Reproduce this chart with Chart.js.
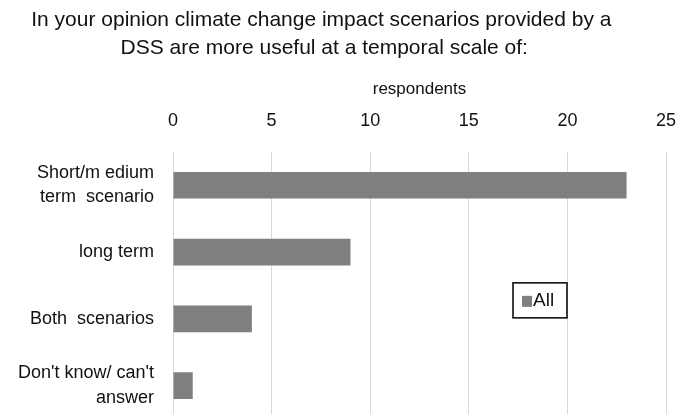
<!DOCTYPE html>
<html>
<head>
<meta charset="utf-8">
<title>Temporal scale of climate change impact scenarios</title>
<script src="https://cdn.jsdelivr.net/npm/chart.js"></script>
<style>
  html, body { margin: 0; padding: 0; background: #fff; overflow: hidden; }
  canvas { display: block; }
</style>
</head>
<body>
<!-- the plot runs a few pixels past the bottom edge of the window -->
<canvas id="scaleChart" width="677" height="419"></canvas>
<script>
// survey answers
const categories = [
  ['Short/m edium', 'term  scenario'],
  'long term',
  'Both  scenarios',
  ["Don't know/ can't", 'answer']
];
const respondents = [23, 9, 4, 1];
const seriesName = 'All';
const xTicks = [0, 5, 10, 15, 20, 25];

const FONT = "'Liberation Sans', Arial, sans-serif";
const barColor = '#7f7f7f';
// trailing no-break spaces nudge the centred title a little left
const NUDGE = '\u00a0\u00a0\u00a0\u00a0';

// boxed legend sitting inside the plot, right of centre
const boxLegend = {
  id: 'boxLegend',
  afterDraw(chart) {
    const { ctx, chartArea } = chart;
    const ds = chart.data.datasets[0];
    const x = chartArea.left + 340, y = chartArea.top + 131;
    const w = 54, h = 35;
    ctx.save();
    ctx.fillStyle = '#fff';
    ctx.fillRect(x, y, w, h);
    ctx.strokeStyle = '#000';
    ctx.lineWidth = 1.5;
    ctx.strokeRect(x, y, w, h);
    ctx.fillStyle = ds.backgroundColor;
    ctx.fillRect(x + 9, y + 13, 10, 11);
    ctx.fillStyle = '#111';
    ctx.font = '19px ' + FONT;
    ctx.textBaseline = 'middle';
    ctx.fillText(ds.label, x + 20, y + 18);
    ctx.restore();
  }
};

new Chart(document.getElementById('scaleChart'), {
  type: 'bar',
  data: {
    labels: categories,
    datasets: [{
      label: seriesName,
      data: respondents,
      backgroundColor: barColor,
      borderWidth: 0,
      categoryPercentage: 1,
      barPercentage: 0.4
    }]
  },
  options: {
    indexAxis: 'y',
    responsive: false,
    animation: false,
    layout: { padding: { left: 0, right: 11, top: 0, bottom: 0 } },
    plugins: {
      legend: { display: false },
      tooltip: { enabled: false },
      title: {
        display: true,
        text: ['In your opinion climate change impact scenarios provided by a' + NUDGE,
               'DSS are more useful at a temporal scale of:' + NUDGE.slice(1)],
        color: '#111',
        font: { family: FONT, size: 21, weight: 'normal', lineHeight: 1.33 },
        padding: { top: 6, bottom: 12 }
      }
    },
    scales: {
      x: {
        position: 'top',
        min: 0,
        max: 25,
        afterBuildTicks(axis) { axis.ticks = xTicks.map(v => ({ value: v })); },
        afterFit(axis) {
          axis.height = 78;
          axis.paddingLeft = 0;
          axis.paddingRight = 0;
        },
        ticks: { color: '#111', font: { family: FONT, size: 18 }, padding: 20 },
        grid: { color: '#d9d9d9', drawTicks: false, lineWidth: 1 },
        border: { display: false },
        title: {
          display: true,
          text: 'respondents',
          color: '#111',
          font: { family: FONT, size: 17 },
          padding: { top: 5, bottom: 12 }
        }
      },
      y: {
        afterFit(axis) {
          axis.width = 173;
          axis.paddingTop = 0;
          axis.paddingBottom = 0;
        },
        ticks: { color: '#111', font: { family: FONT, size: 18, lineHeight: 1.35 }, padding: 19, autoSkip: false },
        grid: { display: false, drawTicks: false },
        border: { display: false }
      }
    }
  },
  plugins: [boxLegend]
});
</script>
</body>
</html>
